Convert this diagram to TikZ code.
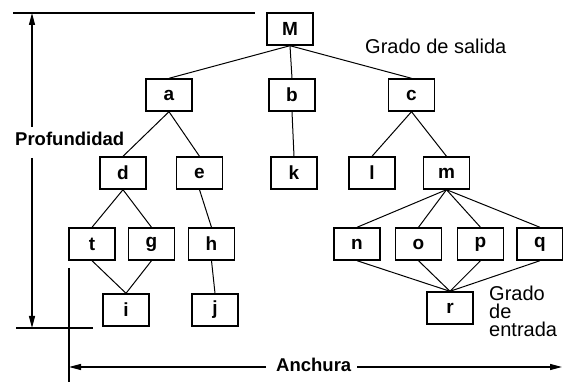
\documentclass[tikz,border=0pt]{standalone}
\usepackage{fontspec}
\setmainfont{Liberation Sans}
\usetikzlibrary{arrows.meta}

\tikzset{
  caja/.style={draw, line width=1.4pt, minimum width=46pt, minimum height=32pt,
    inner sep=0pt, font=\fontsize{19}{19}\selectfont\bfseries},
  rama/.style={line width=1pt},
  cota/.style={line width=1.3pt},
  flecha/.style={cota, -{Triangle[length=12pt,width=6pt]}},
  rotulo/.style={inner sep=0pt, font=\fontsize{20}{18}\selectfont},
  negrita/.style={inner sep=0pt, font=\fontsize{18.5}{18.5}\selectfont\bfseries},
}

\begin{document}
\begin{tikzpicture}[x=1pt,y=-1pt]
    \useasboundingbox (0,0) rectangle (563,382);
    % nodos del arbol
    \node[caja] (M) at (290,29) {M};
    \node[caja] (a) at (169,95) {a};
    \node[caja] (b) at (292,95) {b};
    \node[caja] (c) at (411.5,95) {c};
    \node[caja] (d) at (123,173) {d};
    \node[caja] (e) at (199.5,173) {e};
    \node[caja] (k) at (294,173) {k};
    \node[caja] (l) at (372,173) {l};
    \node[caja] (m) at (446.5,173) {m};
    \node[caja] (t) at (92,244) {t};
    \node[caja] (g) at (151.5,244) {g};
    \node[caja] (h) at (211.5,244) {h};
    \node[caja] (n) at (357,244) {n};
    \node[caja] (o) at (418.5,244) {o};
    \node[caja] (p) at (480.5,244) {p};
    \node[caja] (q) at (540,244) {q};
    \node[caja] (i) at (126,310) {i};
    \node[caja] (j) at (215,310) {j};
    \node[caja] (r) at (450,308) {r};
    % aristas
    \foreach \p/\h in {M/a,M/b,M/c,a/d,a/e,b/k,c/l,c/m,d/t,d/g,e/h,h/j,
                       t/i,g/i,m/n,m/o,m/p,m/q,n/r,o/r,p/r,q/r}
        \draw[rama] (\p.south) -- (\h.north);
    % rotulos
    \node[rotulo, anchor=base west] (salida) at (365,54) {Grado de salida};
    \node[rotulo, anchor=base west] (grado) at (489,301) {Grado};
    \node[rotulo, anchor=base west] (de) at (489,319) {de};
    \node[rotulo, anchor=base west] (entrada) at (489,337) {entrada};
    \node[negrita, anchor=base west] (prof) at (15,146) {Profundidad};
    \node[negrita, anchor=base west] (anchura) at (276,372) {Anchura};
    % cotas
    \draw[cota] (13,13) -- (255,13);
    \draw[cota] (16,328) -- (93,328);
    \draw[flecha] (32,127) -- (32,13);
    \draw[flecha] (32,158) -- (32,328);
    \draw[cota] (69,268) -- (69,382);
    \draw[flecha] (266,367) -- (69,367);
    \draw[flecha] (357,367) -- (562,367);
\end{tikzpicture}
\end{document}
